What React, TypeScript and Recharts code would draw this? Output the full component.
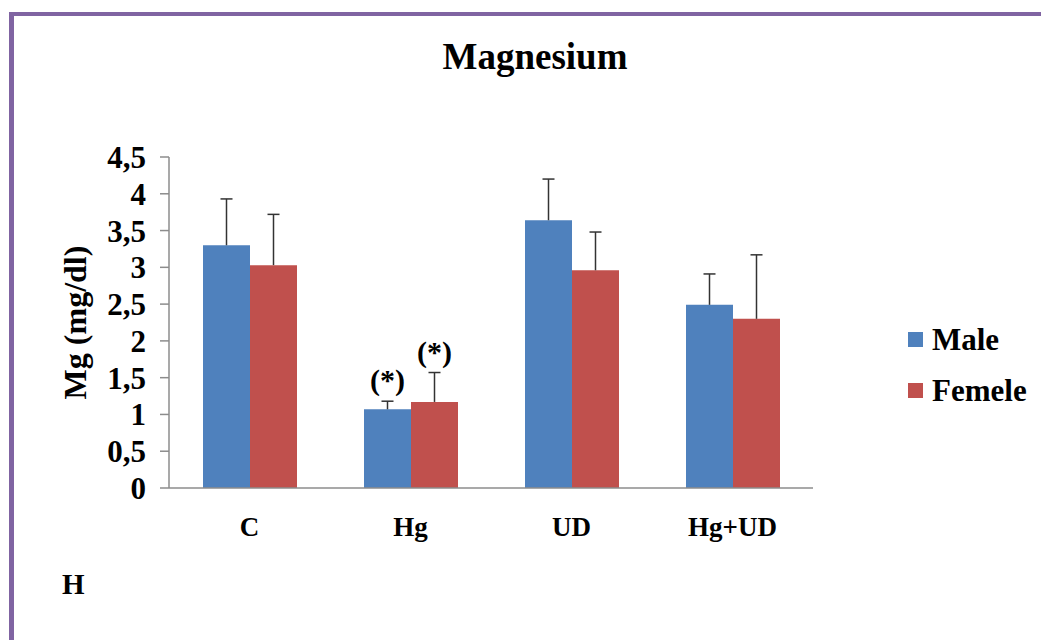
import React from "react";
import { BarChart, Bar, XAxis, YAxis, LabelList } from "recharts";

// Serum magnesium by group and sex, mean with upper SD
const groups = ["C", "Hg", "UD", "Hg+UD"];
const maleMean = [3.3, 1.07, 3.64, 2.49];
const maleSd = [0.63, 0.11, 0.56, 0.42];
const femaleMean = [3.03, 1.17, 2.96, 2.3];
const femaleSd = [0.69, 0.4, 0.52, 0.87];
const maleMark = ["", "(*)", "", ""];
const femaleMark = ["", "(*)", "", ""];
const yTicks = [0, 0.5, 1, 1.5, 2, 2.5, 3, 3.5, 4, 4.5];

const BLUE = "#4F81BD";
const RED = "#C0504D";
const FONT = "'Liberation Serif', 'Times New Roman', serif";

const rows = groups.map((g, i) => ({
  group: g,
  male: maleMean[i],
  female: femaleMean[i],
  maleMark: maleMark[i],
  femaleMark: femaleMark[i],
}));

const fmt = (v: number) => String(v).replace(".", ",");

// Upper-only SD whisker with a cap, plus the "(*)" mark above it.
// Bar height / value gives the y scale, so whisker length follows the axis.
function whisker(mean: number[], sd: number[]) {
  return (props: any) => {
    const { x, y, width, height, value, index } = props;
    const perUnit = height / mean[index];
    const top = y - sd[index] * perUnit;
    const cx = x + width / 2;
    return (
      <g>
        <line x1={cx} x2={cx} y1={y} y2={top} stroke="#333" strokeWidth={1.5} />
        <line x1={cx - 6} x2={cx + 6} y1={top} y2={top} stroke="#333" strokeWidth={1.5} />
        {value ? (
          <text
            x={cx}
            y={top - 11}
            textAnchor="middle"
            fontFamily={FONT}
            fontWeight="bold"
            fontSize={30}
            fill="#000"
          >
            {value}
          </text>
        ) : null}
      </g>
    );
  };
}

function LegendBox() {
  const items = [
    { name: "Male", color: BLUE },
    { name: "Femele", color: RED },
  ];
  return (
    <div
      style={{
        position: "absolute",
        left: 908,
        top: 314,
        fontFamily: FONT,
        fontWeight: "bold",
        fontSize: 31,
      }}
    >
      {items.map((it) => (
        <div key={it.name} style={{ display: "flex", alignItems: "center", height: 51 }}>
          <span style={{ width: 15, height: 15, background: it.color, marginRight: 9 }} />
          <span>{it.name}</span>
        </div>
      ))}
    </div>
  );
}

export default function App() {
  return (
    <div
      style={{
        position: "absolute",
        left: 0,
        top: 0,
        width: 1041,
        height: 640,
        overflow: "hidden",
        background: "#fff",
      }}
    >
      <div
        style={{
          position: "absolute",
          left: 9,
          top: 12,
          width: 1200,
          height: 800,
          borderTop: "4px solid #8064A2",
          borderLeft: "5px solid #8064A2",
        }}
      />
      <div
        style={{
          position: "absolute",
          left: 0,
          width: 1070,
          top: 35,
          textAlign: "center",
          fontFamily: FONT,
          fontWeight: "bold",
          fontSize: 37,
        }}
      >
        Magnesium
      </div>
      <div
        style={{
          position: "absolute",
          left: 62,
          top: 568,
          fontFamily: FONT,
          fontWeight: "bold",
          fontSize: 29,
        }}
      >
        H
      </div>
      <div style={{ position: "absolute", left: 0, top: 0 }}>
        <BarChart
          width={1041}
          height={640}
          data={rows}
          margin={{ top: 157, right: 228, bottom: 102, left: 59 }}
          barCategoryGap={34}
          barGap={0}
        >
          <XAxis
            dataKey="group"
            axisLine={{ stroke: "#8C8C8C", strokeWidth: 1.5 }}
            tickLine={false}
            tickSize={0}
            tickMargin={29}
            height={50}
            tick={{ fontFamily: FONT, fontWeight: "bold", fontSize: 27, fill: "#000" }}
          />
          <YAxis
            width={110}
            domain={[0, 4.5]}
            ticks={yTicks}
            interval={0}
            tickFormatter={fmt}
            axisLine={{ stroke: "#8C8C8C", strokeWidth: 1.5 }}
            tickLine={{ stroke: "#8C8C8C", strokeWidth: 1.5 }}
            tickSize={9}
            tickMargin={14}
            tick={{ fontFamily: FONT, fontWeight: "bold", fontSize: 31, fill: "#000" }}
            label={{
              value: "Mg (mg/dl)",
              angle: -90,
              position: "insideLeft",
              offset: 16,
              style: {
                fontFamily: FONT,
                fontWeight: "bold",
                fontSize: 32,
                fill: "#000",
                textAnchor: "middle",
              },
            }}
          />
          <Bar dataKey="male" name="Male" fill={BLUE} isAnimationActive={false}>
            <LabelList dataKey="maleMark" content={whisker(maleMean, maleSd)} />
          </Bar>
          <Bar dataKey="female" name="Femele" fill={RED} isAnimationActive={false}>
            <LabelList dataKey="femaleMark" content={whisker(femaleMean, femaleSd)} />
          </Bar>
        </BarChart>
      </div>
      <LegendBox />
    </div>
  );
}
